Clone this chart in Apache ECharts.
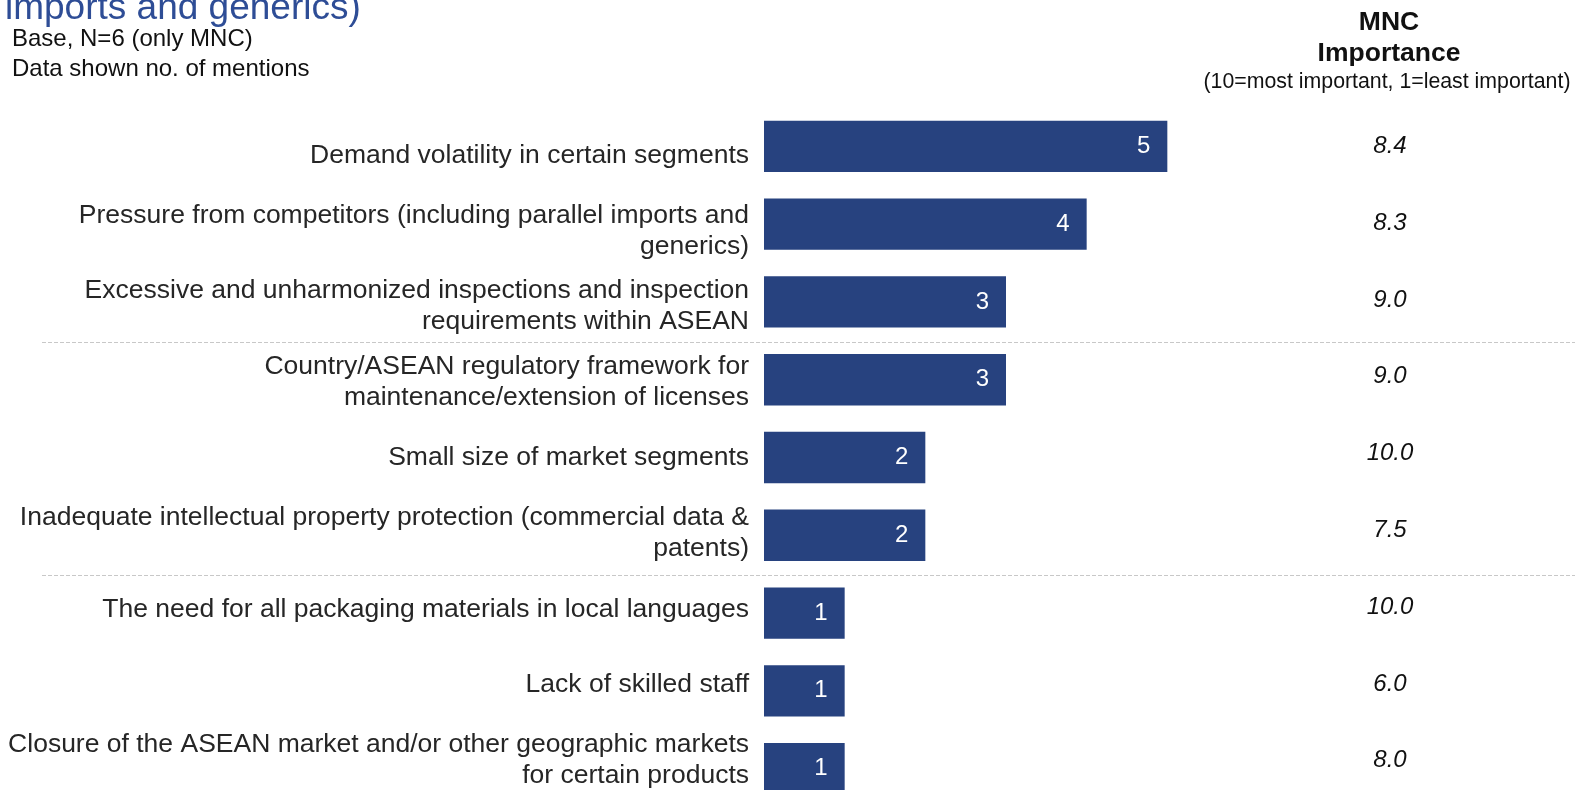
<!DOCTYPE html>
<html>
  <head>
    <meta charset="utf-8" />
    <title>MNC challenges</title>
    <script src="https://cdn.jsdelivr.net/npm/echarts@6/dist/echarts.min.js"></script>
    <style>
      html, body { margin: 0; padding: 0; background: #fff; }
    </style>
  </head>
  <body>
    <div id="main" style="width:1575px;height:790px;"></div>
    <script type="text/javascript">
      // categories, top to bottom
      var categories = [
        'Demand volatility in certain segments',
        'Pressure from competitors (including parallel imports and\ngenerics)',
        'Excessive and unharmonized inspections and inspection\nrequirements within ASEAN',
        'Country/ASEAN regulatory framework for\nmaintenance/extension of licenses',
        'Small size of market segments',
        'Inadequate intellectual property protection (commercial data &\npatents)',
        'The need for all packaging materials in local languages',
        'Lack of skilled staff',
        'Closure of the ASEAN market and/or other geographic markets\nfor certain products'
      ];
      // no. of mentions
      var mentions = [5, 4, 3, 3, 2, 2, 1, 1, 1];
      // MNC importance score
      var importance = ['8.4', '8.3', '9.0', '9.0', '10.0', '7.5', '10.0', '6.0', '8.0'];
      // dashed separators drawn after these category indexes
      var groupBreaks = [2, 5];

      var barColor = '#27427f';
      var font = "'Liberation Sans', Arial, sans-serif";

      var myChart = echarts.init(document.getElementById('main'));

      // the text columns sit in a table whose rows are not quite the bar rows,
      // so each column gets its own grid / category axis
      var hiddenCat = {
        type: 'category',
        inverse: true,
        axisLine: { show: false },
        axisTick: { show: false },
        splitLine: { show: false }
      };

      var option = {
        animation: false,
        backgroundColor: '#ffffff',
        textStyle: { fontFamily: font },
        title: [
          {
            text: 'imports and generics)',
            left: 5,
            top: -10,
            padding: 0,
            textStyle: { color: '#2e4d96', fontSize: 37, fontWeight: 'normal', fontFamily: font }
          },
          {
            text: 'Base, N=6 (only MNC)\nData shown no. of mentions',
            left: 12,
            top: 24,
            padding: 0,
            textStyle: { color: '#111', fontSize: 24, fontWeight: 'normal', lineHeight: 30, fontFamily: font }
          },
          {
            text: 'MNC\nImportance',
            left: 1389,
            textAlign: 'center',
            top: 7,
            padding: 0,
            textStyle: { color: '#111', fontSize: 26.5, fontWeight: 'bold', lineHeight: 31, fontFamily: font }
          },
          {
            text: '(10=most important, 1=least important)',
            left: 1387,
            textAlign: 'center',
            top: 72,
            padding: 0,
            textStyle: { color: '#111', fontSize: 21.3, fontWeight: 'normal', fontFamily: font }
          }
        ],
        grid: [
          { left: 764, top: 107.5, width: 484, height: 700, outerBoundsMode: 'none' },
          { left: 764, top: 117.5, width: 484, height: 681, outerBoundsMode: 'none' },
          { left: 764, top: 108, width: 484, height: 691, outerBoundsMode: 'none' }
        ],
        xAxis: [
          { type: 'value', gridIndex: 0, min: 0, max: 6, show: false },
          { type: 'value', gridIndex: 1, min: 0, max: 6, show: false },
          { type: 'value', gridIndex: 2, min: 0, max: 6, show: false }
        ],
        yAxis: [
          Object.assign({}, hiddenCat, {
            gridIndex: 0,
            data: categories,
            axisLabel: { show: false }
          }),
          Object.assign({}, hiddenCat, {
            gridIndex: 1,
            data: categories,
            axisLabel: {
              margin: 15,
              color: '#262626',
              fontSize: 26.5,
              lineHeight: 31,
              align: 'right',
              fontFamily: font
            }
          }),
          Object.assign({}, hiddenCat, {
            gridIndex: 2,
            data: importance,
            position: 'right',
            axisLabel: {
              margin: 142,
              align: 'center',
              color: '#111',
              fontSize: 24,
              fontStyle: 'italic',
              fontFamily: font
            }
          })
        ],
        series: [
          {
            name: 'Mentions',
            type: 'bar',
            xAxisIndex: 0,
            yAxisIndex: 0,
            data: mentions,
            barCategoryGap: '34%',
            itemStyle: { color: barColor },
            label: {
              show: true,
              position: 'insideRight',
              distance: 17,
              color: '#ffffff',
              fontSize: 24,
              fontFamily: font
            }
          }
        ]
      };

      myChart.setOption(option);

      // dashed group separators running across the whole width
      var lines = [];
      groupBreaks.forEach(function (i) {
        var y1 = myChart.convertToPixel({ yAxisIndex: 0 }, categories[i]);
        var y2 = myChart.convertToPixel({ yAxisIndex: 0 }, categories[i + 1]);
        var y = Math.round((y1 + y2) / 2) + 1.5;
        lines.push({
          type: 'line',
          shape: { x1: 42, y1: y, x2: 1575, y2: y },
          style: { stroke: '#c8c8c8', lineWidth: 1, lineDash: [4, 2] },
          silent: true
        });
      });
      myChart.setOption({ graphic: lines });
    </script>
  </body>
</html>
